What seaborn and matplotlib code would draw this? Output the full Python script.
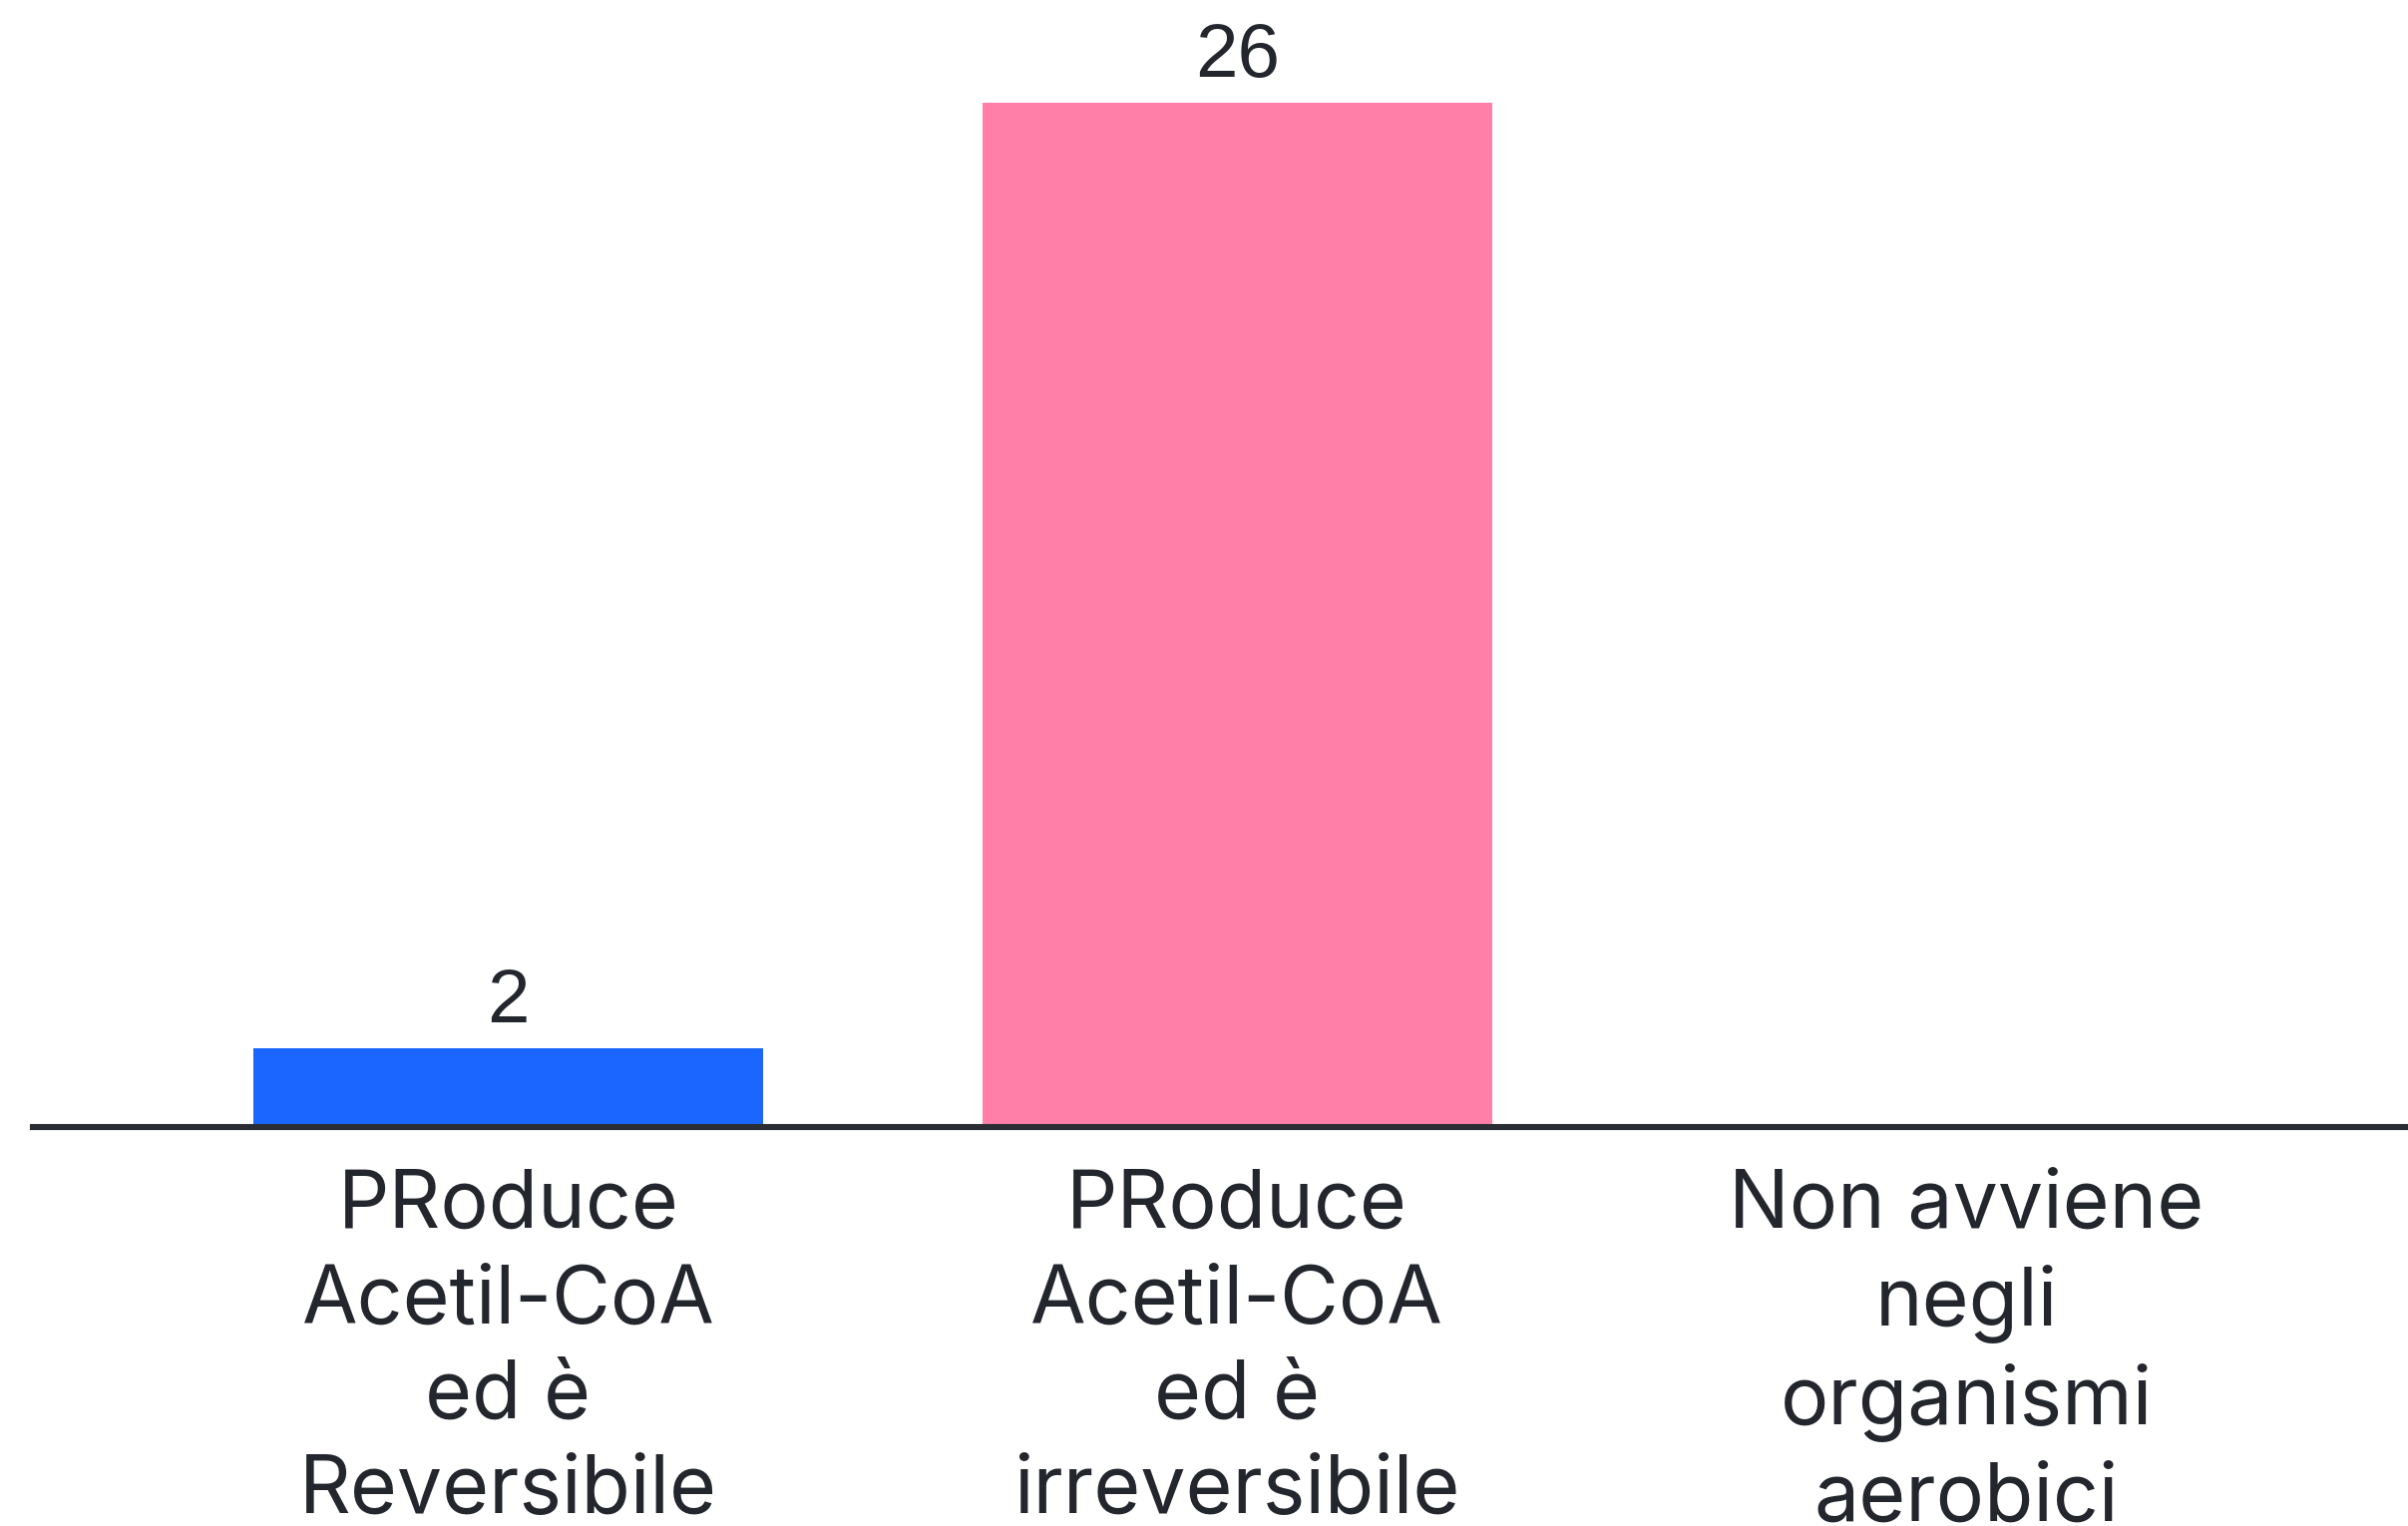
import matplotlib
matplotlib.use("Agg")
import matplotlib.pyplot as plt
import seaborn as sns
import pandas as pd

# Survey answers and number of votes per answer
categories = [
    "PRoduce\nAcetil-CoA\ned è\nReversibile",
    "PRoduce\nAcetil-CoA\ned è\nirreversibile",
    "Non avviene\nnegli\norganismi\naerobici",
]
votes = [2, 26, 0]
bar_colors = ["#1a66ff", "#ff7fa8", "#7f7f7f"]

sns.set_theme(style="white")
plt.rcParams["font.family"] = ["Inter", "DejaVu Sans"]

text_color = "#23262d"
df = pd.DataFrame({"risposta": categories, "voti": votes})

fig = plt.figure(figsize=(24.14, 15.30), dpi=100)
ax = fig.add_axes([33 / 2414, 1 - 1130 / 1530, 1 - 33 / 2414, 1130 / 1530])

sns.barplot(
    data=df, x="risposta", y="voti", hue="risposta",
    palette=bar_colors, width=0.7, legend=False, ax=ax,
    saturation=1, linewidth=0,
)

ax.set_xlim(-0.652, 2.606)
ax.set_ylim(0, 28.6)
ax.set_xlabel("")
ax.set_ylabel("")
ax.set_yticks([])

for side in ("top", "left", "right"):
    ax.spines[side].set_visible(False)
ax.spines["bottom"].set_color("#2a2d34")
ax.spines["bottom"].set_linewidth(4.4)
ax.spines["bottom"].set_zorder(5)

ax.tick_params(axis="x", length=0, pad=30, labelsize=58, labelcolor=text_color)
for lbl in ax.get_xticklabels():
    lbl.set_linespacing(1.33)
    lbl.set_horizontalalignment("center")

# Value labels above the bars that received votes
for i, v in enumerate(votes):
    if v > 0:
        ax.annotate(
            str(v), xy=(i, v), xytext=(0, 26), textcoords="offset pixels",
            ha="center", va="baseline", fontsize=55, color=text_color,
            family=["Liberation Sans", "DejaVu Sans"],
        )

fig.savefig("out.png", dpi=100, facecolor="white")
